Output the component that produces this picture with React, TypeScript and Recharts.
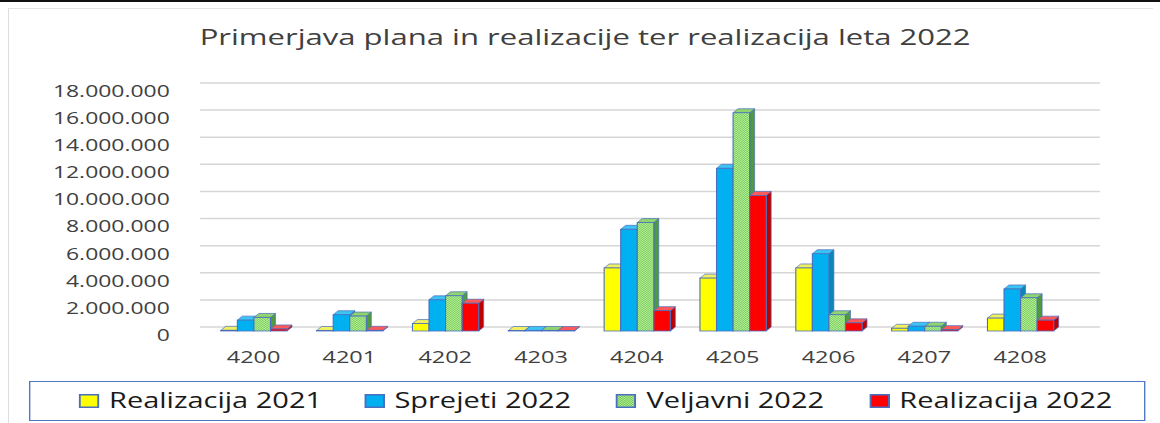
import React from 'react';
import { BarChart, Bar, XAxis, YAxis, CartesianGrid, Legend } from 'recharts';

const categories = ['4200', '4201', '4202', '4203', '4204', '4205', '4206', '4207', '4208'];
const realizacija2021 = [50000, 20000, 550000, 30000, 4650000, 3900000, 4650000, 200000, 950000];
const sprejeti2022 = [800000, 1200000, 2300000, 40000, 7500000, 12000000, 5700000, 350000, 3100000];
const veljavni2022 = [1000000, 1100000, 2600000, 40000, 8000000, 16100000, 1200000, 350000, 2450000];
const realizacija2022 = [150000, 50000, 2050000, 30000, 1500000, 10000000, 600000, 100000, 800000];
const yTicks = [0, 2000000, 4000000, 6000000, 8000000, 10000000, 12000000, 14000000, 16000000, 18000000];
const seriesNames = ['Realizacija 2021', 'Sprejeti 2022', 'Veljavni 2022', 'Realizacija 2022'];
const titleText = 'Primerjava plana in realizacije ter realizacija leta 2022';

const data = categories.map((c, i) => ({
  name: c,
  r21: realizacija2021[i],
  s22: sprejeti2022[i],
  v22: veljavni2022[i],
  r22: realizacija2022[i],
}));

const S = 1.38;
const W = 841;
const H = 423;
const FONT = '"Open Sans", "Noto Sans", sans-serif';
const TXT = '#404040';

const styles = [
  { key: 'r21', front: '#FFFF00', top: '#f0f060', side: '#c9c900' },
  { key: 's22', front: '#00B0F0', top: '#3cc4f4', side: '#0a86b8' },
  { key: 'v22', front: 'url(#greenPat)', top: '#8fd46c', side: '#4f9a3f' },
  { key: 'r22', front: '#FF0000', top: '#ff5a5a', side: '#c00000' },
];

const fmt = (v: number) => String(v).replace(/\B(?=(\d{3})+(?!\d))/g, '.');

function Bar3D(props: any) {
  const { x, y, width, height, front, top, side } = props;
  if (x == null || y == null) return null;
  const d = 3.6;
  const dy = 4;
  const h = Math.max(height || 0, 0.5);
  const yy = y + (height || 0) - h;
  const stroke = '#4a6fc0';
  return (
    <g>
      <polygon
        points={`${x + width},${yy} ${x + width + d},${yy - dy} ${x + width + d},${yy + h - dy} ${x + width},${yy + h}`}
        fill={side}
        stroke={stroke}
        strokeWidth={0.6}
      />
      <polygon
        points={`${x},${yy} ${x + d},${yy - dy} ${x + width + d},${yy - dy} ${x + width},${yy}`}
        fill={top}
        stroke={stroke}
        strokeWidth={0.6}
      />
      <rect x={x} y={yy} width={width} height={h} fill={front} stroke={stroke} strokeWidth={0.8} />
    </g>
  );
}

const YTick = (p: any) => (
  <text x={p.x} y={p.y + 4} dy="0.355em" textAnchor="end" fontSize={16.6} fontFamily={FONT} fill={TXT}>
    {fmt(p.payload.value)}
  </text>
);

const XTick = (p: any) => (
  <text x={p.x} y={p.y} dy="0.71em" textAnchor="middle" fontSize={17} fontFamily={FONT} fill={TXT}>
    {p.payload.value}
  </text>
);

const squareFills = ['#FFFF00', '#00B0F0', 'url(#greenPatL)', '#FF0000'];
const textLeft = [57, 263.8, 446.4, 629.7];

const renderLegend = () => (
  <div
    style={{
      position: 'relative',
      width: 809,
      height: 40,
      boxSizing: 'border-box',
      border: '1.5px solid #5076c4',
      background: '#fff',
      fontFamily: FONT,
    }}
  >
    {seriesNames.map((n, i) => (
      <React.Fragment key={n}>
        <svg
          width={15}
          height={14}
          style={{ position: 'absolute', left: textLeft[i] - 22, top: 12 }}
        >
          <defs>
            <pattern id="greenPatL" width="2" height="2" patternUnits="userSpaceOnUse">
              <rect width="2" height="2" fill="#b9eea0" />
              <rect width="1" height="1" fill="#6cc64a" />
              <rect x="1" y="1" width="1" height="1" fill="#6cc64a" />
            </pattern>
          </defs>
          <rect x={0.75} y={0.75} width={13.5} height={12.5} fill={squareFills[i]} stroke="#4a6fc0" strokeWidth={1.5} />
        </svg>
        <div
          style={{
            position: 'absolute',
            left: textLeft[i],
            top: 8,
            fontSize: 21,
            lineHeight: '21px',
            color: '#1a1a1a',
            whiteSpace: 'nowrap',
          }}
        >
          {n}
        </div>
      </React.Fragment>
    ))}
  </div>
);

export default function App() {
  return (
    <div style={{ position: 'absolute', left: 0, top: 0, width: 1160, height: 423, background: '#fff', overflow: 'hidden' }}>
      <div style={{ position: 'absolute', left: 0, top: 0, width: 1160, height: 2, background: '#111' }} />
      <div
        style={{
          position: 'absolute',
          left: 8,
          top: 8,
          width: 1144,
          height: 420,
          borderLeft: '1.5px solid #dedede',
          borderTop: '1.5px solid #e4e4e4',
        }}
      />
      <div
        style={{
          position: 'absolute',
          left: 0,
          top: 0,
          width: W,
          height: H,
          transform: `scaleX(${S})`,
          transformOrigin: '0 0',
        }}
      >
        <div
          style={{
            position: 'absolute',
            left: 24,
            width: 800,
            top: 26,
            textAlign: 'center',
            fontFamily: FONT,
            fontSize: 22.5,
            lineHeight: '22.5px',
            color: TXT,
            whiteSpace: 'nowrap',
          }}
        >
          {titleText}
        </div>
        <div style={{ position: 'absolute', left: 0, top: 0 }}>
          <BarChart
            width={W}
            height={H}
            data={data}
            margin={{ top: 87, right: 67, bottom: 62, left: 5 }}
            barSize={12}
            barGap={0}
          >
            <defs>
              <pattern id="greenPat" width="2" height="2" patternUnits="userSpaceOnUse">
                <rect width="2" height="2" fill="#bff0a8" />
                <rect width="1" height="1" fill="#72cc4e" />
                <rect x="1" y="1" width="1" height="1" fill="#72cc4e" />
              </pattern>
            </defs>
            <CartesianGrid
              vertical={false}
              horizontal={(p: any) => (
                <line
                  key={`g-${p.y1}`}
                  x1={p.x1 - 4}
                  x2={p.x2 + 23}
                  y1={p.y1 - 4}
                  y2={p.y2 - 4}
                  stroke="#d6d6d6"
                  strokeWidth={1.5}
                />
              )}
            />
            <XAxis
              dataKey="name"
              axisLine={false}
              tickLine={false}
              tickSize={0}
              tickMargin={20}
              height={30}
              interval={0}
              tick={<XTick />}
            />
            <YAxis
              domain={[0, 18000000]}
              ticks={yTicks}
              axisLine={false}
              tickLine={false}
              tickSize={0}
              tickMargin={26}
              width={144}
              tick={<YTick />}
            />
            <Legend
              verticalAlign="middle"
              align="center"
              wrapperStyle={{ left: 21, top: 381, width: 809, height: 40 }}
              content={renderLegend}
            />
            {styles.map((s, i) => (
              <Bar
                key={s.key}
                dataKey={s.key}
                name={seriesNames[i]}
                isAnimationActive={false}
                fill={s.front}
                shape={(p: any) => <Bar3D {...p} front={s.front} top={s.top} side={s.side} />}
              />
            ))}
          </BarChart>
        </div>
      </div>
    </div>
  );
}
